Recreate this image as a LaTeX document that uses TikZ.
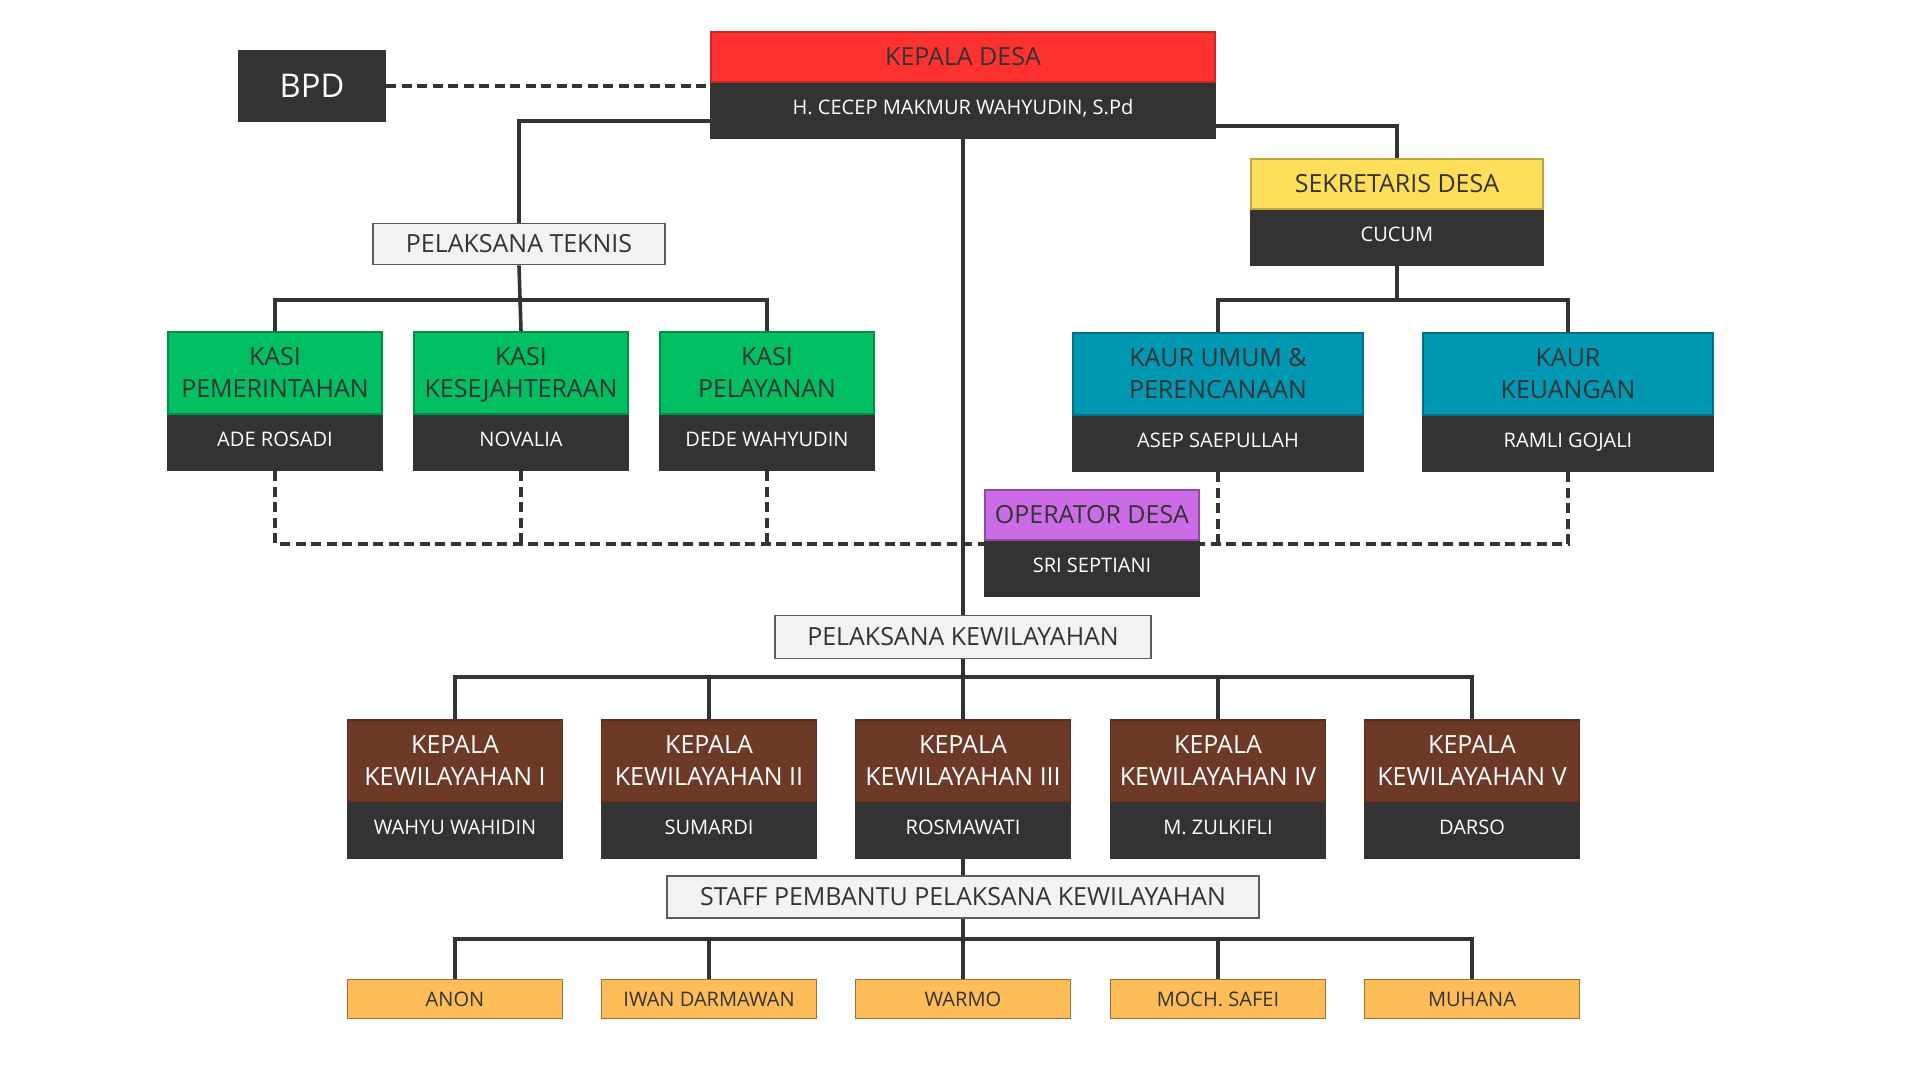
\documentclass[tikz,border=0pt]{standalone}
\usepackage{fontspec}
\setmainfont{Open Sans}
\definecolor{orgred}{HTML}{FF3131}
\definecolor{orgdark}{HTML}{333333}
\definecolor{orggreen}{HTML}{00BF63}
\definecolor{orgyellow}{HTML}{FFDE59}
\definecolor{orgteal}{HTML}{0097B2}
\definecolor{orgpurple}{HTML}{CB6CE6}
\definecolor{orgbrown}{HTML}{6E3A28}
\definecolor{orgorange}{HTML}{FFBD59}
\definecolor{orggray}{HTML}{F2F2F2}
\usetikzlibrary{positioning,calc}

\tikzset{
  head/.style={rectangle, inner sep=0pt, align=center, text=orgdark, text depth=0.4pt,
    font=\fontsize{7.1}{9.2}\selectfont, line width=0.4pt},
  person/.style={rectangle, inner sep=0pt, align=center, text=white, fill=orgdark,
    draw=orgdark, font=\fontsize{5.7}{7}\selectfont, text depth=2.1pt,
    minimum height=0.55cm, anchor=north},
  unitbox/.style={rectangle, inner sep=0pt, align=center, text=orgdark, fill=orggray,
    draw=orgdark!80, line width=0.5pt, font=\fontsize{7.1}{9}\selectfont},
  staffbox/.style={rectangle, inner sep=0pt, align=center, text=orgdark, fill=orgorange,
    draw=orgorange!60!black, line width=0.4pt, font=\fontsize{5.7}{7}\selectfont,
    minimum width=2.15cm, minimum height=0.39cm},
  link/.style={draw=orgdark, line width=0.036cm},
  dashlink/.style={link, dash pattern=on 0.1cm off 0.055cm}
}

\begin{document}
\begin{tikzpicture}[x=0.01cm, y=-0.01cm]
  \fill[white] (0,0) rectangle (1920,1080);
  \useasboundingbox (0,0) rectangle (1920,1080);

  % Top: BPD and Kepala Desa
  \node[rectangle, fill=orgdark, text=white, font=\fontsize{9.3}{11}\selectfont,
    minimum width=1.47cm, minimum height=0.71cm] (bpd) at (312,86) {BPD};
  \node[head, fill=orgred, draw=orgred!80!black, minimum width=5.04cm, minimum height=0.5cm] (kdesa) at (963,57) {KEPALA DESA};
  \node[person, minimum width=5.04cm] (kdesaN) at (kdesa.south) {H. CECEP MAKMUR WAHYUDIN, S.Pd};

  % Sekretaris
  \node[head, fill=orgyellow, draw=orgyellow!75!black, minimum width=2.92cm, minimum height=0.5cm] (sek) at (1397,184) {SEKRETARIS DESA};
  \node[person, minimum width=2.92cm] (sekN) at (sek.south) {CUCUM};

  % Pelaksana teknis
  \node[unitbox, minimum width=2.92cm, minimum height=0.41cm] (ptek) at (519,244) {PELAKSANA TEKNIS};
  \node[head, fill=orggreen, draw=orggreen!75!black, minimum width=2.14cm, minimum height=0.82cm] (kasi1) at (275,373) {KASI\\PEMERINTAHAN};
  \node[person, minimum width=2.14cm] (kasi1N) at (kasi1.south) {ADE ROSADI};
  \node[head, fill=orggreen, draw=orggreen!75!black, minimum width=2.14cm, minimum height=0.82cm] (kasi2) at (521,373) {KASI\\KESEJAHTERAAN};
  \node[person, minimum width=2.14cm] (kasi2N) at (kasi2.south) {NOVALIA};
  \node[head, fill=orggreen, draw=orggreen!75!black, minimum width=2.14cm, minimum height=0.82cm] (kasi3) at (767,373) {KASI\\PELAYANAN};
  \node[person, minimum width=2.14cm] (kasi3N) at (kasi3.south) {DEDE WAHYUDIN};

  % Kaur
  \node[head, fill=orgteal, draw=orgteal!75!black, minimum width=2.9cm, minimum height=0.82cm] (kaur1) at (1218,374) {KAUR UMUM \&\\PERENCANAAN};
  \node[person, minimum width=2.9cm] (kaur1N) at (kaur1.south) {ASEP SAEPULLAH};
  \node[head, fill=orgteal, draw=orgteal!75!black, minimum width=2.9cm, minimum height=0.82cm] (kaur2) at (1568,374) {KAUR\\KEUANGAN};
  \node[person, minimum width=2.9cm] (kaur2N) at (kaur2.south) {RAMLI GOJALI};

  % Operator
  \node[head, fill=orgpurple, draw=orgpurple!70!black, minimum width=2.14cm, minimum height=0.5cm] (opr) at (1092,515) {OPERATOR DESA};
  \node[person, minimum width=2.14cm] (oprN) at (opr.south) {SRI SEPTIANI};

  % Pelaksana kewilayahan
  \node[unitbox, minimum width=3.76cm, minimum height=0.43cm] (pkew) at (963,637) {PELAKSANA KEWILAYAHAN};
  \node[head, text=white, fill=orgbrown, draw=orgbrown!80!black, minimum width=2.15cm, minimum height=0.82cm] (kew1) at (455,761) {KEPALA\\KEWILAYAHAN I};
  \node[person, minimum width=2.15cm] (kew1N) at (kew1.south) {WAHYU WAHIDIN};
  \node[head, text=white, fill=orgbrown, draw=orgbrown!80!black, minimum width=2.15cm, minimum height=0.82cm] (kew2) at (709,761) {KEPALA\\KEWILAYAHAN II};
  \node[person, minimum width=2.15cm] (kew2N) at (kew2.south) {SUMARDI};
  \node[head, text=white, fill=orgbrown, draw=orgbrown!80!black, minimum width=2.15cm, minimum height=0.82cm] (kew3) at (963,761) {KEPALA\\KEWILAYAHAN III};
  \node[person, minimum width=2.15cm] (kew3N) at (kew3.south) {ROSMAWATI};
  \node[head, text=white, fill=orgbrown, draw=orgbrown!80!black, minimum width=2.15cm, minimum height=0.82cm] (kew4) at (1218,761) {KEPALA\\KEWILAYAHAN IV};
  \node[person, minimum width=2.15cm] (kew4N) at (kew4.south) {M. ZULKIFLI};
  \node[head, text=white, fill=orgbrown, draw=orgbrown!80!black, minimum width=2.15cm, minimum height=0.82cm] (kew5) at (1472,761) {KEPALA\\KEWILAYAHAN V};
  \node[person, minimum width=2.15cm] (kew5N) at (kew5.south) {DARSO};

  % Staff pembantu
  \node[unitbox, minimum width=5.92cm, minimum height=0.42cm] (staf) at (963,897) {STAFF PEMBANTU PELAKSANA KEWILAYAHAN};
  \node[staffbox] (st1) at (455,999) {ANON};
  \node[staffbox] (st2) at (709,999) {IWAN DARMAWAN};
  \node[staffbox] (st3) at (963,999) {WARMO};
  \node[staffbox] (st4) at (1218,999) {MOCH. SAFEI};
  \node[staffbox] (st5) at (1472,999) {MUHANA};

  % Bus points
  \coordinate (tbus) at (521,300);
  \coordinate (sbus) at (1397,300);
  \coordinate (wbus) at (963,677);
  \coordinate (fbus) at (963,939);
  \coordinate (dbusL) at ([yshift=-0.03cm]opr.south west);
  \coordinate (dbusR) at ([yshift=-0.03cm]opr.south east);

  % Lines
  \draw[dashlink] (bpd.east) -- (bpd.east -| kdesaN.west);
  \draw[link] ([yshift=-0.1cm]kdesaN.west) -| (ptek.north);
  \draw[link] ([yshift=-0.15cm]kdesaN.east) -| (sek.north);
  \draw[link] (kdesaN.south) -- (pkew.north);
  \draw[link] (ptek.south) -- (kasi2.north);
  \draw[link] (kasi1.north) |- (tbus) -| (kasi3.north);
  \draw[link] (sekN.south) -- (sbus);
  \draw[link] (kaur1.north) |- (sbus) -| (kaur2.north);
  \draw[dashlink] (kasi1N.south) |- (dbusL);
  \draw[dashlink] (kasi2N.south) -- (kasi2N.south |- dbusL);
  \draw[dashlink] (kasi3N.south) -- (kasi3N.south |- dbusL);
  \draw[dashlink] (kaur2N.south) |- (dbusR);
  \draw[dashlink] (kaur1N.south) -- (kaur1N.south |- dbusR);
  \draw[link] (pkew.south) -- (kew3.north);
  \draw[link] (kew1.north) |- (wbus) -| (kew5.north);
  \draw[link] (kew2.north) -- (kew2.north |- wbus);
  \draw[link] (kew4.north) -- (kew4.north |- wbus);
  \draw[link] (kew3N.south) -- (staf.north);
  \draw[link] (staf.south) -- (st3.north);
  \draw[link] (st1.north) |- (fbus) -| (st5.north);
  \draw[link] (st2.north) -- (st2.north |- fbus);
  \draw[link] (st4.north) -- (st4.north |- fbus);
\end{tikzpicture}
\end{document}
